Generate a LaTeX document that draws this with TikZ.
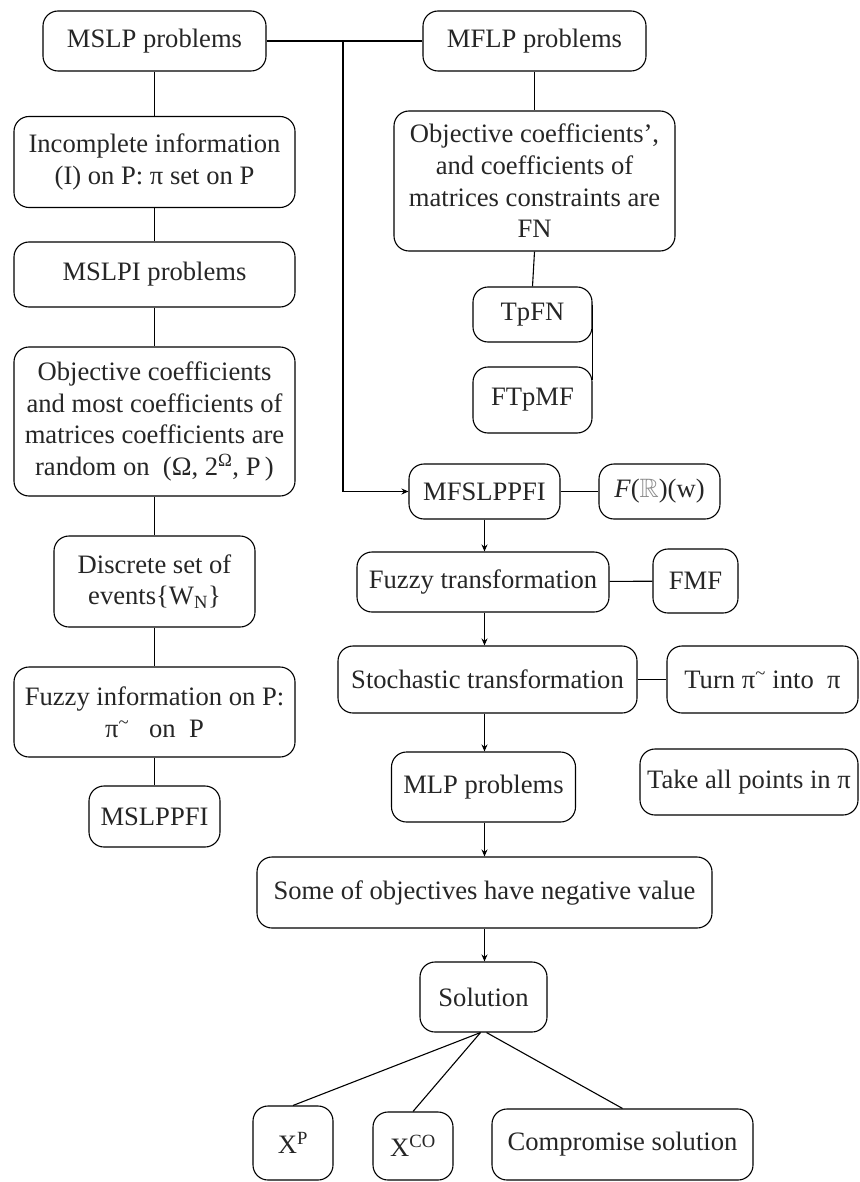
\documentclass[tikz,border=0pt]{standalone}
\usepackage{fontspec}
\usepackage{amssymb}
\setmainfont{Liberation Serif}
\usetikzlibrary{arrows.meta}

\begin{document}
\begin{tikzpicture}[x=1pt,y=-1pt,
  box/.style={draw, line width=1.1pt, rounded corners=15pt, align=center,
    inner sep=0pt, font=\fontsize{26.6}{31.7}\selectfont, text=black!85},
  link/.style={line width=1.1pt},
  flow/.style={line width=1.1pt, -{Stealth[length=7pt,width=6pt]}}]

\fill[white] (0,0) rectangle (859,1182);
\useasboundingbox (0,0) rectangle (859,1182);

% left column
\node[box, minimum width=223pt, minimum height=60pt] (mslp) at (154.5,41) {MSLP problems};
\node[box, minimum width=281pt, minimum height=91pt] (inc) at (154.5,162)
  {Incomplete information\\(I) on P: π set on P};
\node[box, minimum width=281pt, minimum height=65pt] (mslpi) at (154.5,274.5) {MSLPI problems};
\node[box, minimum width=281pt, minimum height=149pt] (objc) at (154.5,421.5)
  {Objective coefficients\\and most coefficients of\\matrices coefficients are\\random on ~(Ω, 2\textsuperscript{Ω}, P\,)};
\node[box, minimum width=201pt, minimum height=91pt] (disc) at (154.5,581.5)
  {Discrete set of\\events\{W\textsubscript{N}\}};
\node[box, minimum width=281pt, minimum height=90pt] (finfo) at (154.5,712)
  {Fuzzy information on P:\\π\textsuperscript{\textasciitilde} ~ on ~P};
\node[box, minimum width=131pt, minimum height=61pt] (mslppfi) at (154.5,816.5) {MSLPPFI};

% right column
\node[box, minimum width=223pt, minimum height=60pt] (mflp) at (534.5,41) {MFLP problems};
\node[box, minimum width=281pt, minimum height=140pt] (objfn) at (534.5,181)
  {Objective coefficients',\\and coefficients of\\matrices constraints are\\FN};
\node[box, minimum width=119pt, minimum height=55pt] (tpfn) at (532.5,314.5) {TpFN};
\node[box, minimum width=119pt, minimum height=66pt] (ftpmf) at (532.5,400) {FTpMF};
\node[box, minimum width=151pt, minimum height=55pt] (mfs) at (484.5,491.5) {MFSLPPFI};
\node[box, minimum width=121pt, minimum height=55pt] (frw) at (659.5,491.5)
  {\textit{F}(\textcolor{black!45}{$\mathbb{R}$})(w)};
\node[box, minimum width=252pt, minimum height=60pt] (ftr) at (483,582) {Fuzzy transformation};
\node[box, minimum width=85pt, minimum height=64pt] (fmf) at (695.5,581) {FMF};
\node[box, minimum width=299pt, minimum height=67pt] (str) at (487.5,679.5) {Stochastic transformation};
\node[box, minimum width=191pt, minimum height=67pt] (turn) at (762.5,679.5)
  {Turn π\textsuperscript{\textasciitilde} into ~π};
\node[box, minimum width=184pt, minimum height=70pt] (mlp) at (483.5,787) {MLP problems};
\node[box, minimum width=218pt, minimum height=66pt] (take) at (749,782) {Take all points in π};
\node[box, minimum width=455pt, minimum height=71pt] (some) at (484.5,892.5)
  {Some of objectives have negative value};
\node[box, minimum width=127pt, minimum height=70pt] (sol) at (483.5,997) {Solution};
\node[box, minimum width=80pt, minimum height=74pt] (xp) at (293,1143) {X\textsuperscript{P}};
\node[box, minimum width=80pt, minimum height=68pt] (xco) at (413,1146) {X\textsuperscript{CO}};
\node[box, minimum width=261pt, minimum height=71pt] (comp) at (622.5,1144.5) {Compromise solution};

% left column links
\draw[link] (mslp) -- (inc);
\draw[link] (inc) -- (mslpi);
\draw[link] (mslpi) -- (objc);
\draw[link] (objc) -- (disc);
\draw[link] (disc) -- (finfo);
\draw[link] (finfo) -- (mslppfi);

% top branch
\draw[link] (mslp) -- (mflp);
\coordinate (split) at (343,41);
\draw[flow] (split) |- (mfs.west);
\draw[link] (mflp) -- (objfn);
\draw[link] (objfn.south) -- (tpfn.north);
\draw[link] ([yshift=10pt]tpfn.east) -- ([yshift=20pt]ftpmf.east);

% main flow
\draw[link] (mfs) -- (frw);
\draw[flow] (mfs.south) -- (mfs.south |- ftr.north);
\draw[link] (ftr) -- (fmf);
\draw[flow] (mfs.south |- ftr.south) -- (mfs.south |- str.north);
\draw[link] (str) -- (turn);
\draw[flow] (mfs.south |- str.south) -- (mfs.south |- mlp.north);
\draw[flow] (mfs.south |- mlp.south) -- (mfs.south |- some.north);
\draw[flow] (mfs.south |- some.south) -- (mfs.south |- sol.north);

% solution branches
\draw[link] ([xshift=-3pt]sol.south) -- (xp.north);
\draw[link] ([xshift=-3pt]sol.south) -- (xco.north);
\draw[link] ([xshift=3pt]sol.south) -- (comp.north);
\end{tikzpicture}
\end{document}
